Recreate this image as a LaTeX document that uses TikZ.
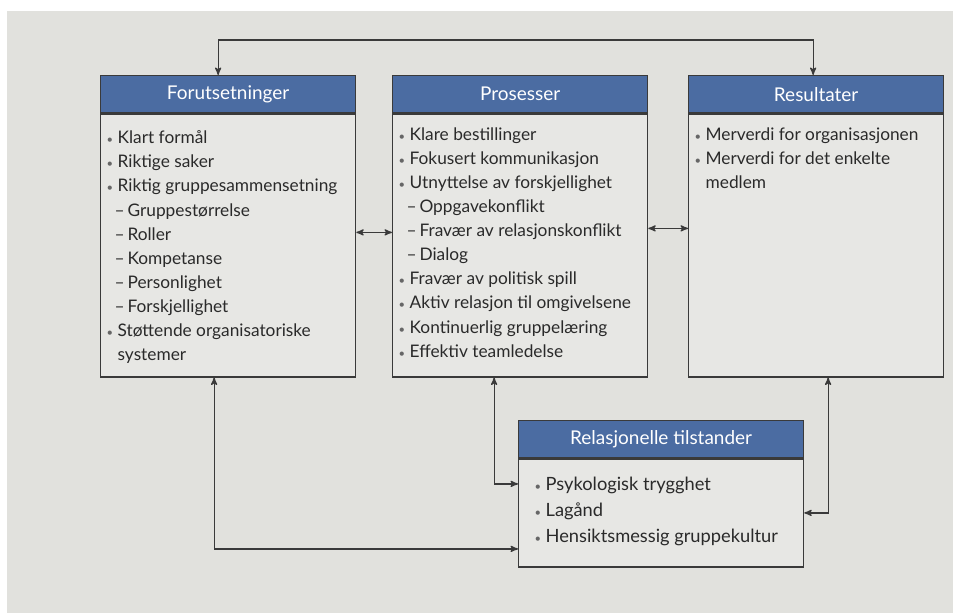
\documentclass[tikz,border=0pt]{standalone}
\usepackage{fontspec}
\setmainfont{Lato}
\usetikzlibrary{arrows}

\newdimen\px \px=0.025cm
\definecolor{sidebg}{HTML}{E1E1DD}
\definecolor{boksbg}{HTML}{E7E7E4}
\definecolor{hodeblaa}{HTML}{4B6CA2}
\definecolor{strek}{HTML}{3A3A3A}
\definecolor{tekst}{HTML}{2A2A2A}
\definecolor{prikk}{HTML}{666666}
\newcommand{\pkt}{\makebox[11\px][l]{\color{prikk}\footnotesize\textbullet}}
\newcommand{\pktinn}{\hspace*{11\px}}
\newcommand{\tstrek}{\hspace*{8\px}--\,}

\begin{document}
\begin{tikzpicture}[x=1\px,y=-1\px,>=stealth',line width=0.9pt,
        hode/.style={anchor=north west,draw=strek,fill=hodeblaa,text=white,
            font=\fontsize{13.5}{16}\selectfont,minimum height=37\px,inner sep=0pt},
        kropp/.style={anchor=north,draw=strek,fill=boksbg,inner sep=0pt},
        liste/.style={anchor=north west,align=left,inner sep=0pt,text=tekst,
            font=\fontsize{12.3}{17.1}\selectfont},
        pil/.style={<->,draw=strek}]
    \useasboundingbox (0,0) rectangle (953,613);
    \fill[white] (0,0) rectangle (953,613);
    \fill[sidebg] (7,11) rectangle (953,613);

    % boksene
    \node[hode,minimum width=255\px](fhode)at(100, 75){Forutsetninger};
    \node[kropp,minimum width=255\px,minimum height=263\px](fkropp)at(fhode.south){};
    \node[liste](fliste)at([xshift=6\px,yshift=-17\px]fkropp.north west){%
        \pkt Klart formål\\ \pkt Riktige saker\\ \pkt Riktig gruppesammensetning\\
        \tstrek Gruppestørrelse\\ \tstrek Roller\\ \tstrek Kompetanse\\
        \tstrek Personlighet\\ \tstrek Forskjellighet\\
        \pkt Støttende organisatoriske\\ \pktinn systemer};

    \node[hode,minimum width=255\px](phode)at(392, 75){Prosesser};
    \node[kropp,minimum width=255\px,minimum height=263\px](pkropp)at(phode.south){};
    \node[liste](pliste)at([xshift=6\px,yshift=-14\px]pkropp.north west){%
        \pkt Klare bestillinger\\ \pkt Fokusert kommunikasjon\\
        \pkt Utnyttelse av forskjellighet\\ \tstrek Oppgavekonflikt\\
        \tstrek Fravær av relasjonskonflikt\\ \tstrek Dialog\\
        \pkt Fravær av politisk spill\\ \pkt Aktiv relasjon til omgivelsene\\
        \pkt Kontinuerlig gruppelæring\\ \pkt Effektiv teamledelse};

    \node[hode,minimum width=255\px](rhode)at(688, 75){Resultater};
    \node[kropp,minimum width=255\px,minimum height=263\px](rkropp)at(rhode.south){};
    \node[liste](rliste)at([xshift=6\px,yshift=-14\px]rkropp.north west){%
        \pkt Merverdi for organisasjonen\\ \pkt Merverdi for det enkelte\\
        \pktinn medlem};

    \node[hode,minimum width=285\px](relhode)at(518, 420){Relasjonelle tilstander};
    \node[kropp,minimum width=285\px,minimum height=108\px](relkropp)at(relhode.south){};
    \node[liste,font=\fontsize{13}{18.5}\selectfont](relliste)at([xshift=16\px,yshift=-18\px]relkropp.north west){%
        \pkt Psykologisk trygghet\\ \pkt Lagånd\\ \pkt Hensiktsmessig gruppekultur};

    % pilene
    \draw[pil] ([xshift=-10\px]fhode.north) -- ++(0,-35) -| ([xshift=-3\px]rhode.north);
    \draw[pil] ([yshift=13\px]fkropp.east) -- ([yshift=13\px]pkropp.west);
    \draw[pil] ([yshift=17\px]pkropp.east) -- ([yshift=17\px]rkropp.west);
    \draw[pil] ([xshift=-14\px]fkropp.south) |- ([yshift=-36\px]relkropp.west);
    \draw[pil] ([xshift=-26\px]pkropp.south) |- ([yshift=29\px]relkropp.west);
    \draw[pil] ([xshift=12\px]rkropp.south) |- (relkropp.east);
\end{tikzpicture}
\end{document}
